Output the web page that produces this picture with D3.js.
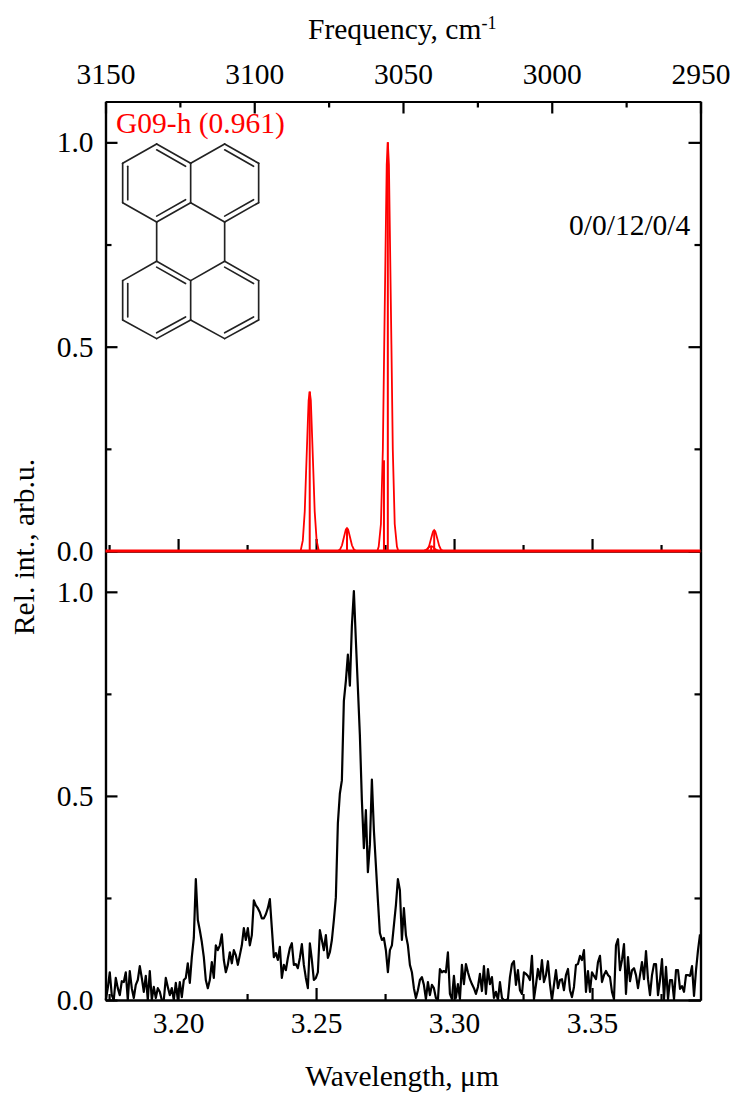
<!DOCTYPE html>
<html lang="en">
<head>
<meta charset="UTF-8">
<title>Rel. int. vs wavelength</title>
<style>
  html, body { margin: 0; padding: 0; background: #fff; }
  svg { display: block; }
  text { font-family: "Liberation Serif", serif; font-size: 29.5px; fill: #000; }
  .axis path, .axis line { fill: none; stroke: #000; stroke-width: 2.2px; }
  .axis text { font-family: "Liberation Serif", serif; font-size: 29.5px; fill: #000; }
</style>
</head>
<body>
<div id="chart"></div>
<script src="https://d3js.org/d3.v7.min.js"></script>
<script>
// axes
var freqTicks = [3150, 3100, 3050, 3000, 2950]
var freqMinor = [3125, 3075, 3025, 2975]
var wlTicks = [3.20, 3.25, 3.30, 3.35]
var wlMinor = [3.175, 3.225, 3.275, 3.325, 3.375]
var intTicks = [0, 0.5, 1.0]
var intMinor = [0.25, 0.75]

// calculated spectrum, one band per sub-array
var bandWl = [
  [3.2444, 3.2452, 3.2459, 3.2464, 3.2470, 3.2473, 3.2477, 3.2481, 3.2484, 3.2490, 3.2495, 3.2502, 3.2510],
  [3.2579, 3.2587, 3.2594, 3.2599, 3.2605, 3.2608, 3.2612, 3.2616, 3.2619, 3.2625, 3.2630, 3.2637, 3.2645],
  [3.2722, 3.2727, 3.2735, 3.2742, 3.2747, 3.2753, 3.2756, 3.2760, 3.2764, 3.2767, 3.2773, 3.2778, 3.2785, 3.2793, 3.2798],
  [3.2884, 3.2892, 3.2899, 3.2904, 3.2910, 3.2913, 3.2917, 3.2921, 3.2924, 3.2930, 3.2935, 3.2942, 3.2950],
  [3.2895, 3.2903, 3.2910, 3.2915, 3.2921, 3.2924, 3.2928, 3.2932, 3.2935, 3.2941, 3.2946, 3.2953, 3.2961]
]
var bandInt = [
  [0, 0.026, 0.097, 0.197, 0.312, 0.369, 0.390, 0.369, 0.312, 0.197, 0.097, 0.026, 0],
  [0, 0.004, 0.014, 0.028, 0.045, 0.053, 0.056, 0.053, 0.045, 0.028, 0.014, 0.004, 0],
  [0, 0.011, 0.066, 0.249, 0.506, 0.800, 0.946, 1.000, 0.946, 0.800, 0.506, 0.249, 0.066, 0.011, 0],
  [0, 0.001, 0.003, 0.006, 0.010, 0.011, 0.012, 0.011, 0.010, 0.006, 0.003, 0.001, 0],
  [0, 0.003, 0.013, 0.026, 0.041, 0.048, 0.051, 0.048, 0.041, 0.026, 0.013, 0.003, 0]
]
var stickWl = [3.2477, 3.2612, 3.2746, 3.2760, 3.2917, 3.2928]
var stickInt = [0.390, 0.056, 0.222, 1.000, 0.012, 0.051]

// measured spectrum, evenly sampled from expStart in steps of expStep
var expStart = 3.1738
var expStep = 0.000725
var expInt = [
  0, 0.029, 0.068, 0.012, 0, 0.054, 0.029, 0.012, 0.046, 0.044,
  0.068, 0, 0.071, 0.029, 0.005, 0.037, 0.049, 0.083, 0.054, 0.020,
  0.059, 0, 0.071, 0, 0.032, 0.005, 0.029, 0.020, 0, 0,
  0.054, 0.032, 0.012, 0.029, 0, 0.042, 0, 0.044, 0.007, 0.049,
  0.054, 0.090, 0.042, 0.105, 0.152, 0.296, 0.196, 0.171, 0.142, 0.105,
  0.049, 0.029, 0.049, 0.093, 0.054, 0.134, 0.122, 0.134, 0.161, 0.098,
  0.068, 0.086, 0.117, 0.090, 0.122, 0.110, 0.086, 0.110, 0.134, 0.176,
  0.147, 0.176, 0.134, 0.159, 0.244, 0.232, 0.225, 0.215, 0.200, 0.200,
  0.210, 0.225, 0.247, 0.176, 0.105, 0.115, 0.098, 0.130, 0.054, 0.086,
  0.073, 0.103, 0.127, 0.139, 0.086, 0.088, 0.078, 0.103, 0.137, 0.086,
  0.054, 0.029, 0.139, 0.098, 0.049, 0.054, 0.068, 0.171, 0.147, 0.122,
  0.159, 0.103, 0.117, 0.147, 0.196, 0.252, 0.433, 0.506, 0.538, 0.733,
  0.782, 0.846, 0.770, 0.917, 1.002, 0.880, 0.765, 0.648, 0.489, 0.372,
  0.465, 0.313, 0.380, 0.540, 0.416, 0.330, 0.244, 0.164, 0.147, 0.152,
  0.122, 0.068, 0.122, 0.134, 0.183, 0.232, 0.296, 0.269, 0.147, 0.225,
  0.159, 0.134, 0.086, 0.068, 0.029, 0.005, 0.024, 0.049, 0.056, 0.037,
  0.002, 0.044, 0.012, 0.037, 0.029, 0.005, 0, 0.076, 0.068, 0.071,
  0.068, 0.117, 0.015, 0.002, 0.059, 0.005, 0.039, 0.002, 0.086, 0.039,
  0.088, 0.068, 0.051, 0.039, 0.029, 0.015, 0.032, 0.064, 0.022, 0.083,
  0.015, 0.076, 0.039, 0.056, 0.005, 0.020, 0, 0.044, 0.005, 0,
  0, 0.002, 0.056, 0.088, 0.095, 0.037, 0.073, 0.024, 0.015, 0.068,
  0.064, 0.059, 0.049, 0.108, 0.002, 0.037, 0.076, 0.051, 0.098, 0.044,
  0.061, 0.095, 0.039, 0, 0.037, 0.073, 0.029, 0.049, 0.051, 0.024,
  0.061, 0.076, 0.024, 0.007, 0.032, 0.086, 0.088, 0.108, 0.098, 0.122,
  0.020, 0.071, 0.020, 0.068, 0.059, 0.051, 0.093, 0.108, 0.044, 0.061,
  0.071, 0.061, 0.056, 0.020, 0.002, 0.134, 0.149, 0.073, 0.098, 0.137,
  0.015, 0.105, 0.046, 0.073, 0.078, 0.061, 0.029, 0.061, 0.093, 0.051,
  0.120, 0.051, 0.012, 0.061, 0.088, 0.088, 0.012, 0.049, 0.100, 0.002,
  0.081, 0.002, 0.049, 0.049, 0.002, 0.073, 0.073, 0.027, 0.034, 0.020,
  0.061, 0.061, 0.059, 0.083, 0.010, 0.073, 0.122, 0.161
]

var width = 734
var height = 1093
var left = 105.5
var right = 700.5
var top1 = 101.5
var mid = 551
var bottom = 1000

var svg = d3.select('#chart').append('svg')
  .attr('width', width)
  .attr('height', height)

var xWl = d3.scaleLinear().domain([3.1737, 3.3893]).range([left, right])
var xFreq = d3.scaleLinear().domain([3150, 2950]).range([left, right])
var yTop = d3.scaleLinear().domain([0, 1.1]).range([mid, top1])
var yBot = d3.scaleLinear().domain([0, 1.1]).range([bottom, mid])

function addAxis(axis, x, y) {
  return svg.append('g')
    .attr('class', 'axis')
    .attr('transform', 'translate(' + x + ',' + y + ')')
    .call(axis)
}

// major and minor ticks, all pointing into the plot
function ticks(maker, scale, major, minor, x, y, fmt, padding) {
  addAxis(maker(scale).tickValues(minor).tickSizeOuter(0).tickSizeInner(-6).tickFormat(''), x, y)
  addAxis(maker(scale).tickValues(major).tickSizeOuter(0).tickSizeInner(-12).tickPadding(padding || 12)
    .tickFormat(fmt || ''), x, y)
}

var f1 = d3.format('.1f')
var f2 = d3.format('.2f')
var f0 = d3.format('d')

ticks(d3.axisTop, xFreq, freqTicks, freqMinor, 0, top1, f0, 18)
ticks(d3.axisBottom, xWl, wlTicks, wlMinor, 0, mid)
ticks(d3.axisBottom, xWl, wlTicks, wlMinor, 0, bottom, f2)
ticks(d3.axisLeft, yTop, intTicks, intMinor, left, 0, f1)
ticks(d3.axisLeft, yBot, intTicks, intMinor, left, 0, f1)
ticks(d3.axisRight, yTop, intTicks, intMinor, right, 0)
ticks(d3.axisRight, yBot, intTicks, intMinor, right, 0)

// measured spectrum
var expLine = d3.line()
  .x(function (d, i) { return xWl(expStart + i * expStep) })
  .y(function (d) { return yBot(d) })
svg.append('path')
  .attr('d', expLine(expInt))
  .attr('fill', 'none')
  .attr('stroke', '#000')
  .attr('stroke-width', 2.2)
  .attr('stroke-linejoin', 'round')

// calculated spectrum
var redLine = d3.line()
  .x(function (d) { return xWl(d[0]) })
  .y(function (d) { return yTop(d[1]) })
bandWl.forEach(function (wl, b) {
  svg.append('path')
    .attr('d', redLine(d3.zip(wl, bandInt[b])))
    .attr('fill', 'none')
    .attr('stroke', '#f00')
    .attr('stroke-width', 1.8)
})
svg.selectAll('.stick')
  .data(stickWl)
  .enter()
  .append('line')
  .attr('class', 'stick')
  .attr('x1', function (d) { return xWl(d) })
  .attr('x2', function (d) { return xWl(d) })
  .attr('y1', yTop(0))
  .attr('y2', function (d, i) { return yTop(stickInt[i]) })
  .attr('stroke', '#f00')
  .attr('stroke-width', 2)
svg.append('line')
  .attr('x1', left)
  .attr('x2', right)
  .attr('y1', yTop(0))
  .attr('y2', yTop(0))
  .attr('stroke', '#f00')
  .attr('stroke-width', 3)

// labels
var freqLabel = svg.append('text').attr('x', 308).attr('y', 39)
freqLabel.append('tspan').text('Frequency, cm')
freqLabel.append('tspan').attr('dy', -10).style('font-size', '18px').text('-1')

svg.append('text').attr('x', 402).attr('y', 1086).attr('text-anchor', 'middle').text('Wavelength, μm')
svg.append('text')
  .attr('transform', 'translate(34,547) rotate(-90)')
  .attr('text-anchor', 'middle')
  .text('Rel. int., arb.u.')
svg.append('text').attr('x', 116).attr('y', 133).style('fill', '#f00').text('G09-h (0.961)')
svg.append('text').attr('x', 569).attr('y', 235).text('0/0/12/0/4')

// perylene sketch, in zoomed units
var atoms = [
  [170, 132], [272, 190], [374, 132], [476, 190], [476, 308], [374, 366], [272, 308], [170, 366], [68, 308], [68, 190],
  [170, 484], [272, 542], [374, 484], [476, 542], [476, 660], [374, 716], [272, 660], [170, 716], [68, 660], [68, 542]
]
var bonds = [
  [0, 1], [1, 2], [2, 3], [3, 4], [4, 5], [5, 6], [6, 7], [7, 8], [8, 9], [9, 0], [1, 6], [7, 10], [5, 12],
  [10, 11], [11, 12], [12, 13], [13, 14], [14, 15], [15, 16], [16, 17], [17, 18], [18, 19], [19, 10], [11, 16]
]
// bond and the ring centre its second stroke leans to
var doubles = [
  [0, 1, 170, 249], [2, 3, 374, 249], [4, 5, 374, 249], [6, 7, 170, 249], [8, 9, 170, 249],
  [10, 11, 170, 600], [12, 13, 374, 600], [14, 15, 374, 600], [16, 17, 170, 600], [18, 19, 170, 600]
]
var mol = svg.append('g')
  .attr('transform', 'translate(100,100) scale(0.3333)')
  .attr('stroke', '#222')
  .attr('stroke-width', 5)
  .attr('stroke-linecap', 'round')
bonds.forEach(function (b) {
  mol.append('line')
    .attr('x1', atoms[b[0]][0]).attr('y1', atoms[b[0]][1])
    .attr('x2', atoms[b[1]][0]).attr('y2', atoms[b[1]][1])
})
doubles.forEach(function (d) {
  var s = 0.85
  var p = atoms[d[0]], q = atoms[d[1]]
  mol.append('line')
    .attr('x1', d[2] + (p[0] - d[2]) * s).attr('y1', d[3] + (p[1] - d[3]) * s)
    .attr('x2', d[2] + (q[0] - d[2]) * s).attr('y2', d[3] + (q[1] - d[3]) * s)
})
</script>
</body>
</html>
